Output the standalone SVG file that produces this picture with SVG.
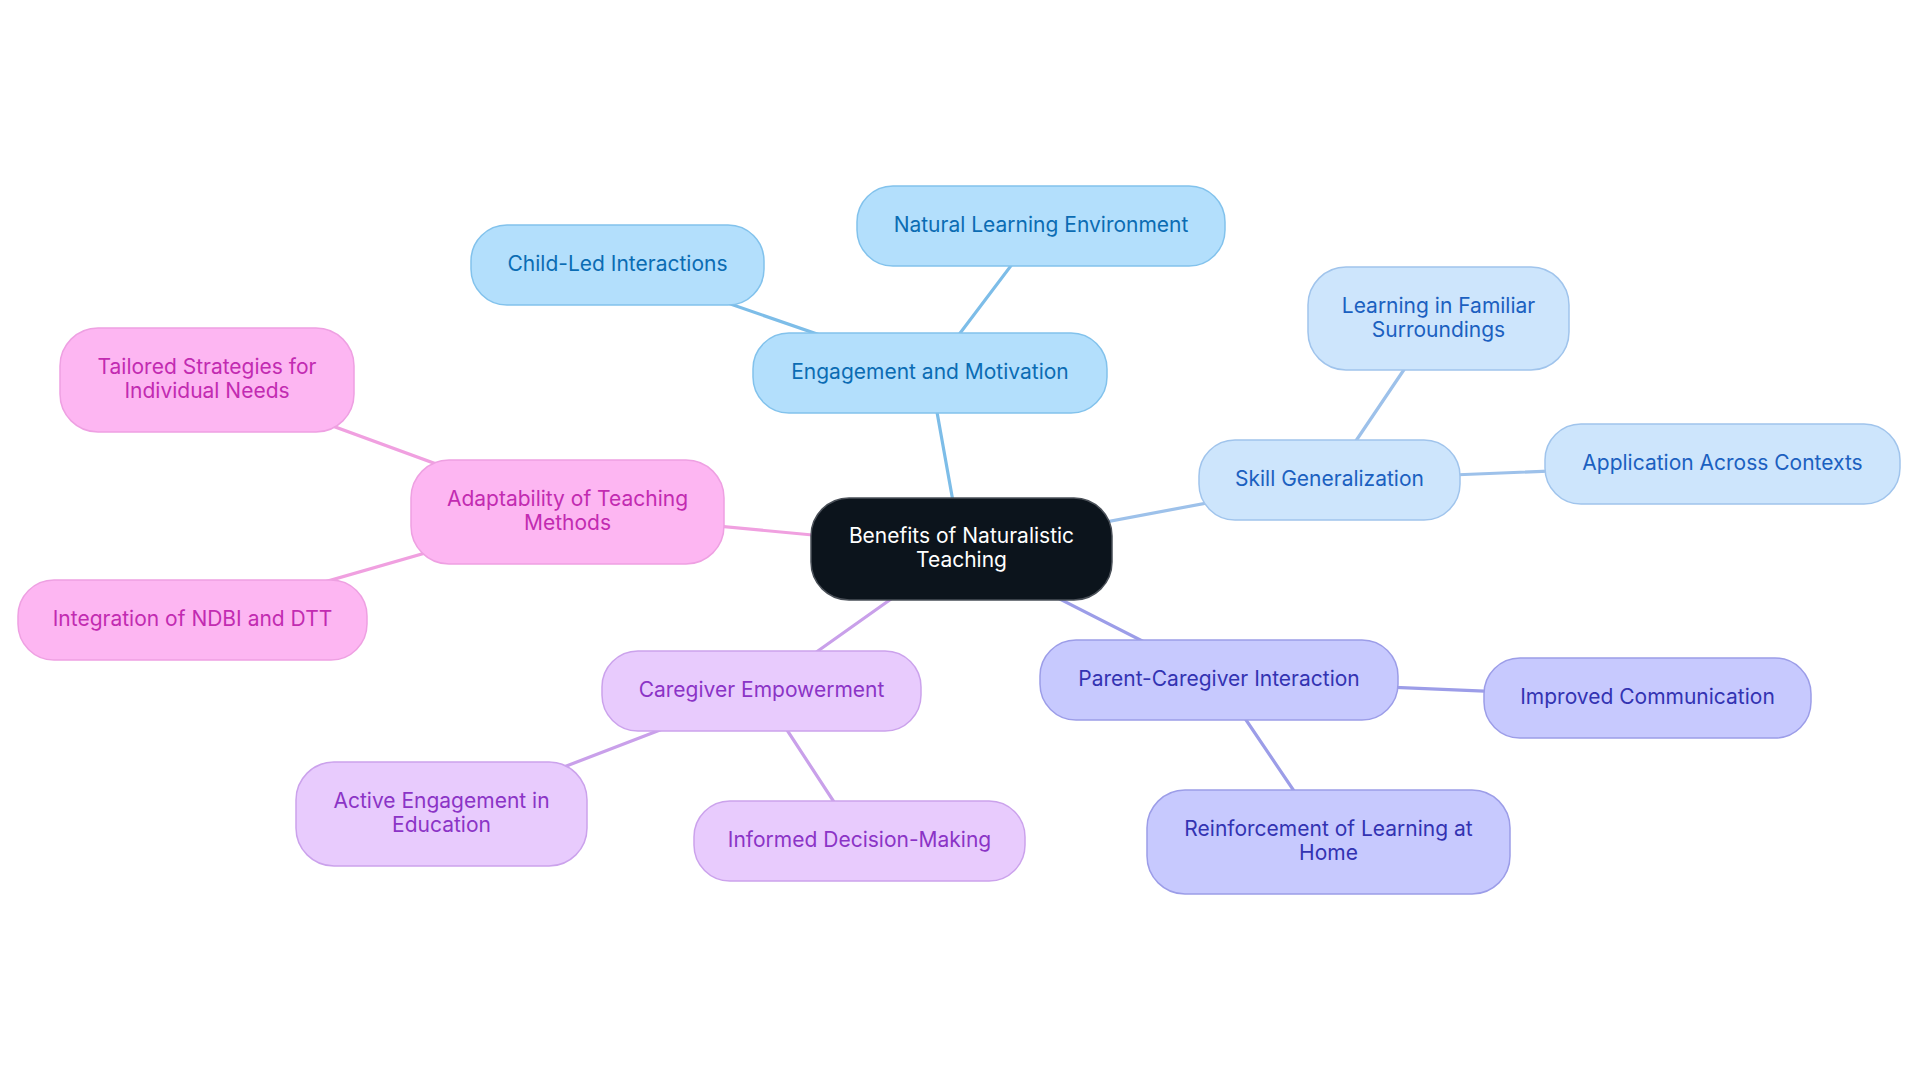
<svg xmlns="http://www.w3.org/2000/svg" width="1920" height="1083" viewBox="0 0 1920 1083">
<style>
text{font-family:Inter,"Noto Sans","Liberation Sans",sans-serif;font-size:21px;text-anchor:middle;dominant-baseline:central}
.e{stroke-width:3.2;fill:none;stroke-linecap:round}
.n rect{stroke-width:1.5}
.n text{transform:translateY(-1.5px)}
.g1 rect{fill:#b3dffc;stroke:#82c2ec}.g1 text{fill:#0b6cb3}
.g2 rect{fill:#cde5fc;stroke:#a0c4ec}.g2 text{fill:#1b60c0}
.g3 rect{fill:#c7c9fe;stroke:#9c9de8}.g3 text{fill:#3333b2}
.g4 rect{fill:#e8cbfd;stroke:#cba2ec}.g4 text{fill:#8b34c6}
.g5 rect{fill:#fdb6f2;stroke:#eea0e2}.g5 text{fill:#c22bb1}
</style>
<rect width="1920" height="1083" fill="#ffffff"/>
<g id="connectors">
<line class="e" stroke="#7dbde8" x1="961.5" y1="549" x2="930" y2="373"/>
<line class="e" stroke="#7dbde8" x1="930" y1="373" x2="617.5" y2="265"/>
<line class="e" stroke="#7dbde8" x1="930" y1="373" x2="1041" y2="226"/>
<line class="e" stroke="#9dc1ea" x1="961.5" y1="549" x2="1329.5" y2="480"/>
<line class="e" stroke="#9dc1ea" x1="1329.5" y1="480" x2="1438.5" y2="318.5"/>
<line class="e" stroke="#9dc1ea" x1="1329.5" y1="480" x2="1722.5" y2="464"/>
<line class="e" stroke="#9c9de8" x1="961.5" y1="549" x2="1219" y2="680"/>
<line class="e" stroke="#9c9de8" x1="1219" y1="680" x2="1647.5" y2="698"/>
<line class="e" stroke="#9c9de8" x1="1219" y1="680" x2="1328.5" y2="842"/>
<line class="e" stroke="#c9a0ea" x1="961.5" y1="549" x2="761.5" y2="691"/>
<line class="e" stroke="#c9a0ea" x1="761.5" y1="691" x2="441.5" y2="814"/>
<line class="e" stroke="#c9a0ea" x1="761.5" y1="691" x2="859.5" y2="841"/>
<line class="e" stroke="#f0a0e0" x1="961.5" y1="549" x2="567.5" y2="512"/>
<line class="e" stroke="#f0a0e0" x1="567.5" y1="512" x2="207" y2="380"/>
<line class="e" stroke="#f0a0e0" x1="567.5" y1="512" x2="192.5" y2="620"/>
</g>
<g id="center" class="n"><rect x="811" y="498" width="301" height="102" rx="38" fill="#0c141c" stroke="#4a5058"/><text fill="#ffffff" x="961.5" y="537">Benefits of Naturalistic</text><text fill="#ffffff" x="961.5" y="561">Teaching</text></g>
<g id="engagement" class="n g1"><rect x="753" y="333" width="354" height="80" rx="36"/><text x="930" y="373">Engagement and Motivation</text></g>
<g id="natural" class="n g1"><rect x="857" y="186" width="368" height="80" rx="36"/><text x="1041" y="226">Natural Learning Environment</text></g>
<g id="childled" class="n g1"><rect x="471" y="225" width="293" height="80" rx="36"/><text x="617.5" y="265">Child-Led Interactions</text></g>
<g id="skill" class="n g2"><rect x="1199" y="440" width="261" height="80" rx="36"/><text x="1329.5" y="480">Skill Generalization</text></g>
<g id="familiar" class="n g2"><rect x="1308" y="267" width="261" height="103" rx="38"/><text x="1438.5" y="306.5">Learning in Familiar</text><text x="1438.5" y="330.5">Surroundings</text></g>
<g id="application" class="n g2"><rect x="1545" y="424" width="355" height="80" rx="36"/><text x="1722.5" y="464">Application Across Contexts</text></g>
<g id="parent" class="n g3"><rect x="1040" y="640" width="358" height="80" rx="36"/><text x="1219" y="680">Parent-Caregiver Interaction</text></g>
<g id="improved" class="n g3"><rect x="1484" y="658" width="327" height="80" rx="36"/><text x="1647.5" y="698">Improved Communication</text></g>
<g id="reinforcement" class="n g3"><rect x="1147" y="790" width="363" height="104" rx="38"/><text x="1328.5" y="830">Reinforcement of Learning at</text><text x="1328.5" y="854">Home</text></g>
<g id="caregiver" class="n g4"><rect x="602" y="651" width="319" height="80" rx="36"/><text x="761.5" y="691">Caregiver Empowerment</text></g>
<g id="active" class="n g4"><rect x="296" y="762" width="291" height="104" rx="38"/><text x="441.5" y="802">Active Engagement in</text><text x="441.5" y="826">Education</text></g>
<g id="informed" class="n g4"><rect x="694" y="801" width="331" height="80" rx="36"/><text x="859.5" y="841">Informed Decision-Making</text></g>
<g id="adaptability" class="n g5"><rect x="411" y="460" width="313" height="104" rx="38"/><text x="567.5" y="500">Adaptability of Teaching</text><text x="567.5" y="524">Methods</text></g>
<g id="tailored" class="n g5"><rect x="60" y="328" width="294" height="104" rx="38"/><text x="207" y="368">Tailored Strategies for</text><text x="207" y="392">Individual Needs</text></g>
<g id="integration" class="n g5"><rect x="18" y="580" width="349" height="80" rx="36"/><text x="192.5" y="620">Integration of NDBI and DTT</text></g>
</svg>
